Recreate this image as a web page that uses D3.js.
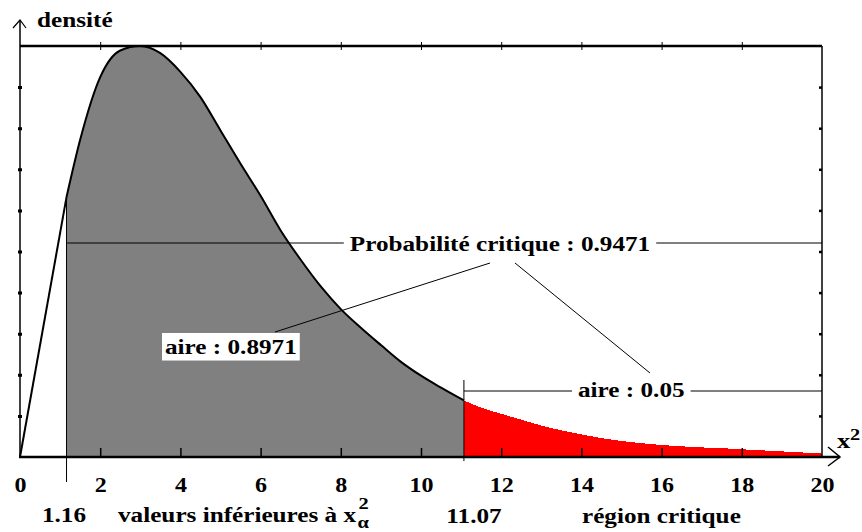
<!DOCTYPE html>
<html>
<head>
<meta charset="utf-8">
<script src="https://cdn.jsdelivr.net/npm/d3@7"></script>
<style>
body { margin: 0; background: #fff; }
</style>
</head>
<body>
<svg id="chart" width="862" height="532"></svg>
<script>
// chi2 density
var khi2 = [0, 1.16, 1.5, 2, 2.5, 3, 3.5, 4, 4.5, 5, 5.5, 6, 6.5, 7, 7.5, 8, 8.5, 9, 9.5, 10, 10.5,
            11.07, 11.5, 12, 12.5, 13, 13.5, 14, 14.5, 15, 15.5, 16, 16.5, 17, 17.5, 18, 18.5, 19, 19.5, 20];
var densite = [0, 0.0975, 0.119, 0.1425, 0.1525, 0.1542, 0.1515, 0.1445, 0.135, 0.1225, 0.110, 0.098, 0.085,
               0.074, 0.064, 0.0555, 0.0485, 0.042, 0.0357, 0.0305, 0.026,
               0.0212, 0.0185, 0.0162, 0.014, 0.0118, 0.010, 0.0085, 0.0071, 0.006, 0.0052, 0.0045,
               0.004, 0.0036, 0.0033, 0.0029, 0.0025, 0.0021, 0.0017, 0.0013];
var xTicks = [0, 2, 4, 6, 8, 10, 12, 14, 16, 18, 20];
var xInnerTicks = [2, 4, 6, 8, 10, 12, 14, 16, 18];
var yMax = 0.1542;
var yTicks = d3.range(0, 11).map(function(i) { return yMax * i / 10; });
var borneInf = 1.16, borneSup = 11.07;
var probaCritique = "0.9471", aireGris = "0.8971", aireRouge = "0.05";

var FONT = "'Liberation Serif', 'Times New Roman', 'DejaVu Serif', serif";

var data = khi2.map(function(k, i) { return {x: k, d: densite[i]}; });

var svg = d3.select("#chart");

var x = d3.scaleLinear().domain([0, 20]).range([20, 822]);
var y = d3.scaleLinear().domain([0, yMax]).range([457, 46]);

// stretched bold serif text
function label(parent, px, py, str, size, anchor) {
  var g = parent.append("g");
  g.append("text")
    .attr("transform", "translate(" + px + "," + py + ") scale(1.2,1)")
    .attr("text-anchor", anchor || "start")
    .attr("font-family", FONT)
    .attr("font-weight", "bold")
    .attr("font-size", size)
    .attr("fill", "#000")
    .text(str);
  return g;
}
function whiteBox(g, padX, padY) {
  var b = g.node().getBBox();
  g.insert("rect", "text")
    .attr("x", b.x - padX).attr("y", b.y - padY)
    .attr("width", b.width + 2 * padX).attr("height", b.height + 2 * padY)
    .attr("fill", "#fff");
}

// areas
var grey = data.filter(function(d) { return d.x >= borneInf && d.x <= borneSup; });
var red = data.filter(function(d) { return d.x >= borneSup; });

var area = d3.area()
  .x(function(d) { return x(d.x); })
  .y0(y(0))
  .y1(function(d) { return y(d.d); })
  .curve(d3.curveMonotoneX);

svg.append("path").datum(grey).attr("d", area).attr("fill", "#808080");
svg.append("path").datum(red).attr("d", area).attr("fill", "#ff0000")
  .attr("shape-rendering", "crispEdges");

// curve outline (0 -> 1.16 straight, then smooth)
var line = d3.line()
  .x(function(d) { return x(d.x); })
  .y(function(d) { return y(d.d); });
svg.append("path").datum(data.slice(0, 2)).attr("d", line)
  .attr("fill", "none").attr("stroke", "#000").attr("stroke-width", 2);
svg.append("path").datum(grey).attr("d", line.curve(d3.curveMonotoneX))
  .attr("fill", "none").attr("stroke", "#000").attr("stroke-width", 2);

// critical value lines
svg.append("line")
  .attr("x1", x(borneInf)).attr("x2", x(borneInf))
  .attr("y1", y(densite[1])).attr("y2", 482)
  .attr("stroke", "#000").attr("stroke-width", 1);
svg.append("line")
  .attr("x1", x(borneSup)).attr("x2", x(borneSup))
  .attr("y1", 380).attr("y2", 461)
  .attr("stroke", "#000").attr("stroke-width", 1);

// frame: top and right
svg.append("line").attr("x1", 20).attr("x2", x(20)).attr("y1", y(yMax)).attr("y2", y(yMax))
  .attr("stroke", "#000").attr("stroke-width", 2.5);
svg.append("line").attr("x1", x(20)).attr("x2", x(20)).attr("y1", y(yMax)).attr("y2", y(0))
  .attr("stroke", "#000").attr("stroke-width", 1.5);

// top ticks crossing the frame
svg.append("g").attr("transform", "translate(0," + y(yMax) + ")")
  .call(d3.axisBottom(x).tickValues(xInnerTicks).tickSize(4).tickFormat(""))
  .call(function(g) { g.select(".domain").remove(); });
svg.append("g").attr("transform", "translate(0," + y(yMax) + ")")
  .call(d3.axisTop(x).tickValues(xInnerTicks).tickSize(4).tickFormat(""))
  .call(function(g) { g.select(".domain").remove(); });

// right ticks
svg.append("g").attr("transform", "translate(" + x(20) + ",0)")
  .call(d3.axisLeft(y).tickValues(yTicks.slice(1, 10)).tickSize(3).tickFormat(""))
  .call(function(g) { g.select(".domain").remove(); g.selectAll("line").attr("stroke-width", 2.5); });

// left axis with arrow
svg.append("line").attr("x1", 20).attr("x2", 20).attr("y1", 20).attr("y2", 458)
  .attr("stroke", "#000").attr("stroke-width", 1.5);
svg.append("path").attr("d", "M13,28L20,20L26,28").attr("fill", "none").attr("stroke", "#000").attr("stroke-width", 1.2);
svg.append("g").attr("transform", "translate(20,0)")
  .call(d3.axisLeft(y).tickValues(yTicks.slice(1, 10)).tickSize(2).tickFormat(""))
  .call(function(g) { g.select(".domain").remove(); g.selectAll("line").attr("stroke-width", 3); });
svg.append("g").attr("transform", "translate(20,0)")
  .call(d3.axisRight(y).tickValues(yTicks.slice(1, 10)).tickSize(2).tickFormat(""))
  .call(function(g) { g.select(".domain").remove(); g.selectAll("line").attr("stroke-width", 3); });

// bottom axis with arrow
svg.append("line").attr("x1", 19).attr("x2", 840).attr("y1", y(0)).attr("y2", y(0))
  .attr("stroke", "#000").attr("stroke-width", 2.5);
svg.append("path").attr("d", "M828,447L840,457L828,466").attr("fill", "none").attr("stroke", "#000").attr("stroke-width", 1.5);
svg.append("g").attr("transform", "translate(0," + y(0) + ")")
  .call(d3.axisTop(x).tickValues(xInnerTicks).tickSize(9).tickFormat(""))
  .call(function(g) { g.select(".domain").remove(); g.selectAll("line").attr("stroke-width", 1.5); });
svg.append("g").attr("transform", "translate(0," + y(0) + ")")
  .attr("font-family", FONT).attr("font-size", 20).attr("font-weight", "bold")
  .call(d3.axisBottom(x).tickValues(xTicks).tickSize(0).tickFormat(d3.format("d")))
  .call(function(g) {
    g.attr("font-family", FONT).attr("font-size", 20).attr("font-weight", "bold");
    g.select(".domain").remove();
    g.selectAll("text").attr("y", 35).attr("dy", null)
      .attr("transform", "scale(1.2,1)")
      .attr("fill", "#000");
  });

// titles
label(svg, 37, 27, "densité", 21);
label(svg, 837, 448, "x", 22);
label(svg, 850, 440, "2", 17);

label(svg, 64, 522, borneInf.toFixed(2), 21, "middle");
var inf = label(svg, 118, 522, "valeurs inférieures à x", 21);
var bb = inf.node().getBBox();
label(svg, bb.x + bb.width + 2, 509, "2", 17);
label(svg, bb.x + bb.width + 1, 528, "α", 17);
label(svg, 474, 523, borneSup.toFixed(2), 21, "middle");
label(svg, 582, 523, "région critique", 21);

// annotations
svg.append("line").attr("x1", x(borneInf)).attr("x2", x(20)).attr("y1", 243).attr("y2", 243)
  .attr("stroke", "#000").attr("stroke-width", 1);
var pc = label(svg, 500, 251, "Probabilité critique : " + probaCritique, 21, "middle");
whiteBox(pc, 6, 2);

svg.append("line").attr("x1", 490).attr("y1", 263).attr("x2", 275).attr("y2", 332)
  .attr("stroke", "#000").attr("stroke-width", 1);
svg.append("line").attr("x1", 515).attr("y1", 263).attr("x2", 650).attr("y2", 373)
  .attr("stroke", "#000").attr("stroke-width", 1);

var ag = label(svg, 165, 354, "aire : " + aireGris, 21);
whiteBox(ag, 3, 2);

svg.append("line").attr("x1", x(borneSup)).attr("x2", x(20)).attr("y1", 391).attr("y2", 391)
  .attr("stroke", "#000").attr("stroke-width", 1);
var ar = label(svg, 578, 397, "aire : " + aireRouge, 21);
whiteBox(ar, 6, 2);
</script>
</body>
</html>
